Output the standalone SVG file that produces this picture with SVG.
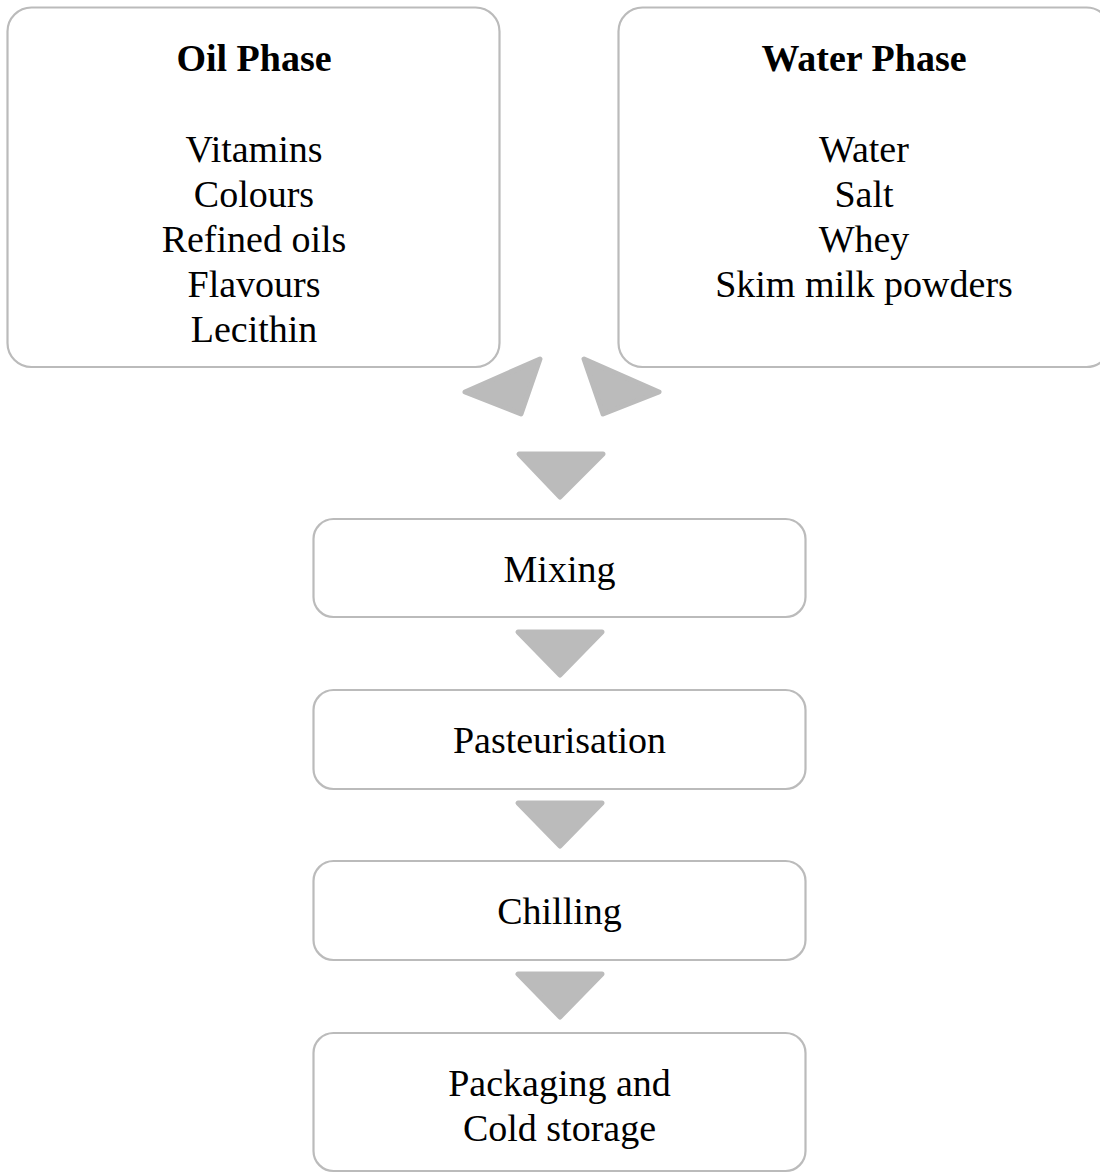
<svg xmlns="http://www.w3.org/2000/svg" width="1100" height="1173" viewBox="0 0 1100 1173">
<style>
.box{fill:#ffffff;stroke:#bbbbbb;stroke-width:2.2}
.arr{fill:#bbbbbb;stroke:#bbbbbb;stroke-width:5;stroke-linejoin:round}
text{font-family:"Liberation Serif","Times New Roman",serif;font-size:38px;fill:#000000;text-anchor:middle}
.h{font-weight:bold}
</style>
<rect width="1100" height="1173" fill="#ffffff"/>
<g id="connectors">
<polygon class="arr" points="465,392 540,359 521,414"/>
<polygon class="arr" points="584,359 659,392 603,414"/>
<polygon class="arr" points="519,454 603,454 560,497"/>
<polygon class="arr" points="518,632 602,632 560,675"/>
<polygon class="arr" points="518,803 602,803 560,846"/>
<polygon class="arr" points="518,974 602,974 560,1017"/>
</g>
<g id="oil">
<rect class="box" x="7.5" y="7.5" width="492" height="359.5" rx="24"/>
<text class="h" x="254" y="71">Oil Phase</text>
<text x="254" y="162">Vitamins</text>
<text x="254" y="207">Colours</text>
<text x="254" y="252">Refined oils</text>
<text x="254" y="297">Flavours</text>
<text x="254" y="342">Lecithin</text>
</g>
<g id="water">
<rect class="box" x="618.5" y="7.5" width="492" height="359.5" rx="24"/>
<text class="h" x="864" y="71">Water Phase</text>
<text x="864" y="162">Water</text>
<text x="864" y="207">Salt</text>
<text x="864" y="252">Whey</text>
<text x="864" y="297">Skim milk powders</text>
</g>
<g id="mixing">
<rect class="box" x="313.5" y="519" width="492" height="98" rx="20"/>
<text x="559.5" y="582">Mixing</text>
</g>
<g id="pasteurisation">
<rect class="box" x="313.5" y="690" width="492" height="99" rx="20"/>
<text x="559.5" y="753">Pasteurisation</text>
</g>
<g id="chilling">
<rect class="box" x="313.5" y="861" width="492" height="99" rx="20"/>
<text x="559.5" y="924">Chilling</text>
</g>
<g id="packaging">
<rect class="box" x="313.5" y="1033" width="492" height="138" rx="20"/>
<text x="559.5" y="1096">Packaging and</text>
<text x="559.5" y="1141">Cold storage</text>
</g>
</svg>
